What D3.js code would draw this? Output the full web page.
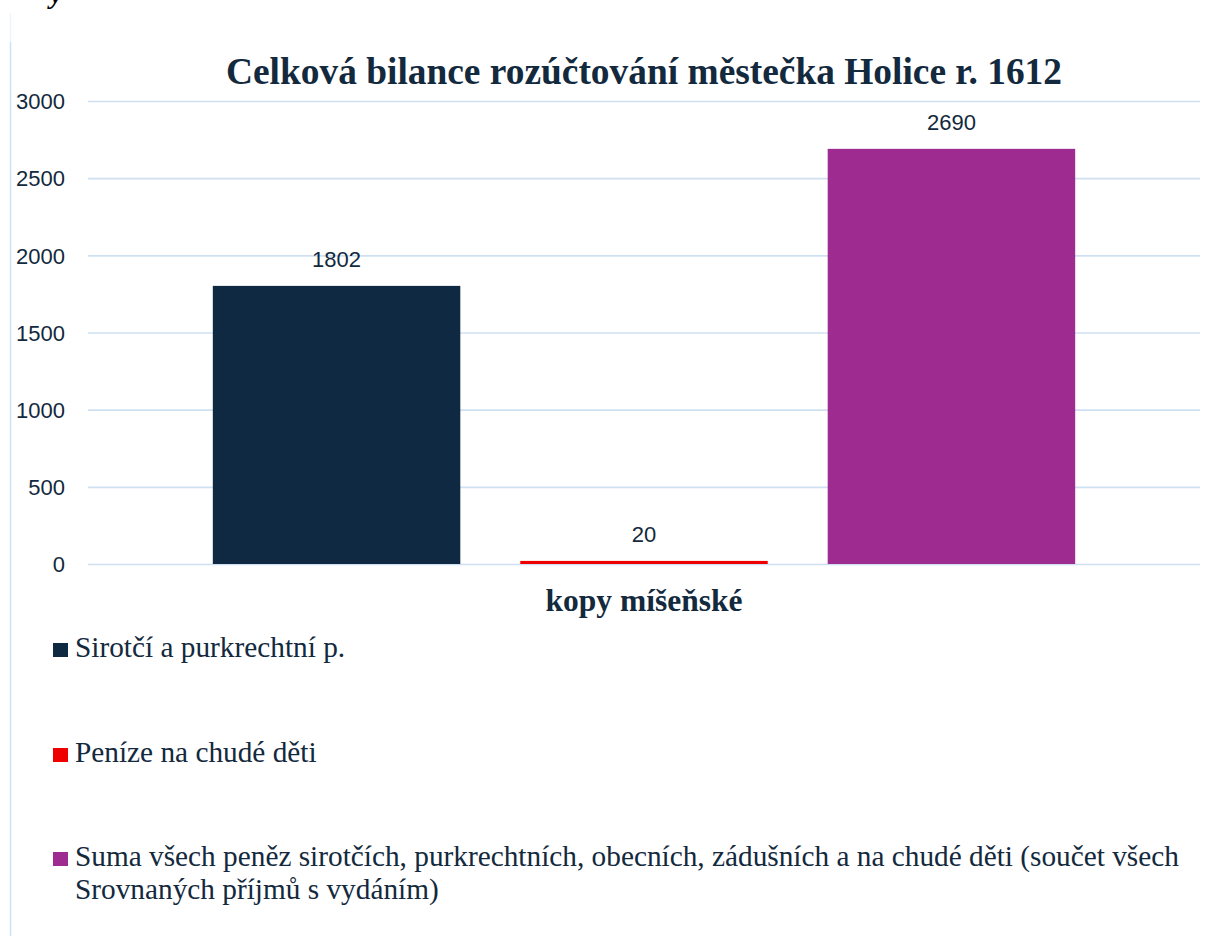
<!DOCTYPE html>
<html>
<head>
<meta charset="utf-8">
<script src="https://cdn.jsdelivr.net/npm/d3@7"></script>
<style>
body{margin:0;background:#fff;}
svg{display:block;}
.serif{font-family:"Liberation Serif","Times New Roman",serif;}
.sans{font-family:"Liberation Sans",Arial,sans-serif;}
</style>
</head>
<body>
<svg width="1208" height="936"></svg>
<script>
var category = ["kopy míšeňské"];
var series = ["Sirotčí a purkrechtní p.", "Peníze na chudé děti", "Suma všech peněz sirotčích, purkrechtních, obecních, zádušních a na chudé děti (součet všech Srovnaných příjmů s vydáním)"];
var values = [1802, 20, 2690];
var colors = ["#0f2942", "#ee0000", "#9e2b8f"];
var yTicks = [0, 500, 1000, 1500, 2000, 2500, 3000];
var legendLines = [["Sirotčí a purkrechtní p."], ["Peníze na chudé děti"], ["Suma všech peněz sirotčích, purkrechtních, obecních, zádušních a na chudé děti (součet všech", "Srovnaných příjmů s vydáním)"]];

function chart(){
	var svg = d3.select("svg");
	var ink = "#13293d";
	var left = 88, right = 1200, top = 101, bottom = 564;

	// kousek textu nad grafem a svislá linka vlevo
	svg.append("text").attr("class", "serif").attr("x", 50).attr("y", 3)
		.style("font-style", "italic").style("font-weight", "bold")
		.style("font-size", "28px").attr("fill", "#000").text("y");
	svg.append("line").attr("x1", 10.5).attr("x2", 10.5).attr("y1", 13).attr("y2", 42)
		.attr("stroke", "#eef4fb").attr("stroke-width", 1.5);
	svg.append("line").attr("x1", 10.5).attr("x2", 10.5).attr("y1", 42).attr("y2", 936)
		.attr("stroke", "#cfe2f5").attr("stroke-width", 1.5);

	var y = d3.scaleLinear().domain([0, 3000]).range([bottom, top]);
	var x0 = d3.scaleBand().domain(category).range([left, right]).padding(0);
	var x1 = d3.scaleBand().domain(series).range([0, x0.bandwidth()])
		.paddingInner(0.195).paddingOuter(0.406);

	var yAxis = d3.axisLeft(y).tickValues(yTicks).tickFormat(d3.format("d"))
		.tickSize(-(right - left)).tickPadding(23);
	var gy = svg.append("g").attr("transform", "translate(" + left + ",0)").call(yAxis);
	gy.attr("font-family", null).attr("font-size", null);
	gy.select(".domain").remove();
	gy.selectAll(".tick line").attr("stroke", "#cfe0f3").attr("stroke-width", 1.6);
	gy.selectAll(".tick text").attr("class", "sans").attr("fill", ink)
		.style("font-size", "22px").attr("dy", "0.35em");

	var g = svg.append("g").selectAll("g").data(category).enter().append("g")
		.attr("transform", function(d){return "translate(" + x0(d) + ",0)"});
	g.selectAll("rect").data(values).enter().append("rect")
		.attr("x", function(d, i){return x1(series[i])})
		.attr("y", function(d){return y(d)})
		.attr("width", x1.bandwidth())
		.attr("height", function(d){return y(0) - y(d)})
		.attr("fill", function(d, i){return colors[i]});
	g.selectAll("text.lbl").data(values).enter().append("text").attr("class", "lbl sans")
		.attr("x", function(d, i){return x1(series[i]) + x1.bandwidth() / 2})
		.attr("y", function(d){return y(d) - 19})
		.attr("text-anchor", "middle").attr("fill", ink)
		.style("font-size", "22px")
		.text(function(d){return d});

	svg.append("text").attr("class", "serif").attr("x", (left + right) / 2).attr("y", 84).attr("text-anchor", "middle")
		.attr("fill", ink).style("font-weight", "bold")
		.style("font-size", "37.4px").text("Celková bilance rozúčtování městečka Holice r. 1612");

	svg.append("text").attr("class", "serif").attr("x", (left + right) / 2).attr("y", 611).attr("text-anchor", "middle")
		.attr("fill", ink).style("font-weight", "bold")
		.style("font-size", "31.5px").text(category[0]);

	// legenda
	var legY = [657, 762, 866];
	var leg = svg.append("g").selectAll("g").data(legendLines).enter().append("g")
		.attr("transform", function(d, i){return "translate(0," + legY[i] + ")"});
	leg.append("rect").attr("x", 53).attr("y", -14).attr("width", 15).attr("height", 14)
		.attr("fill", function(d, i){return colors[i]});
	leg.selectAll("text").data(function(d){return d}).enter().append("text").attr("class", "serif")
		.attr("x", 75).attr("y", function(d, i){return i * 33})
		.attr("fill", ink).style("font-size", "29.3px")
		.text(function(d){return d});
}
chart();
</script>
</body>
</html>
